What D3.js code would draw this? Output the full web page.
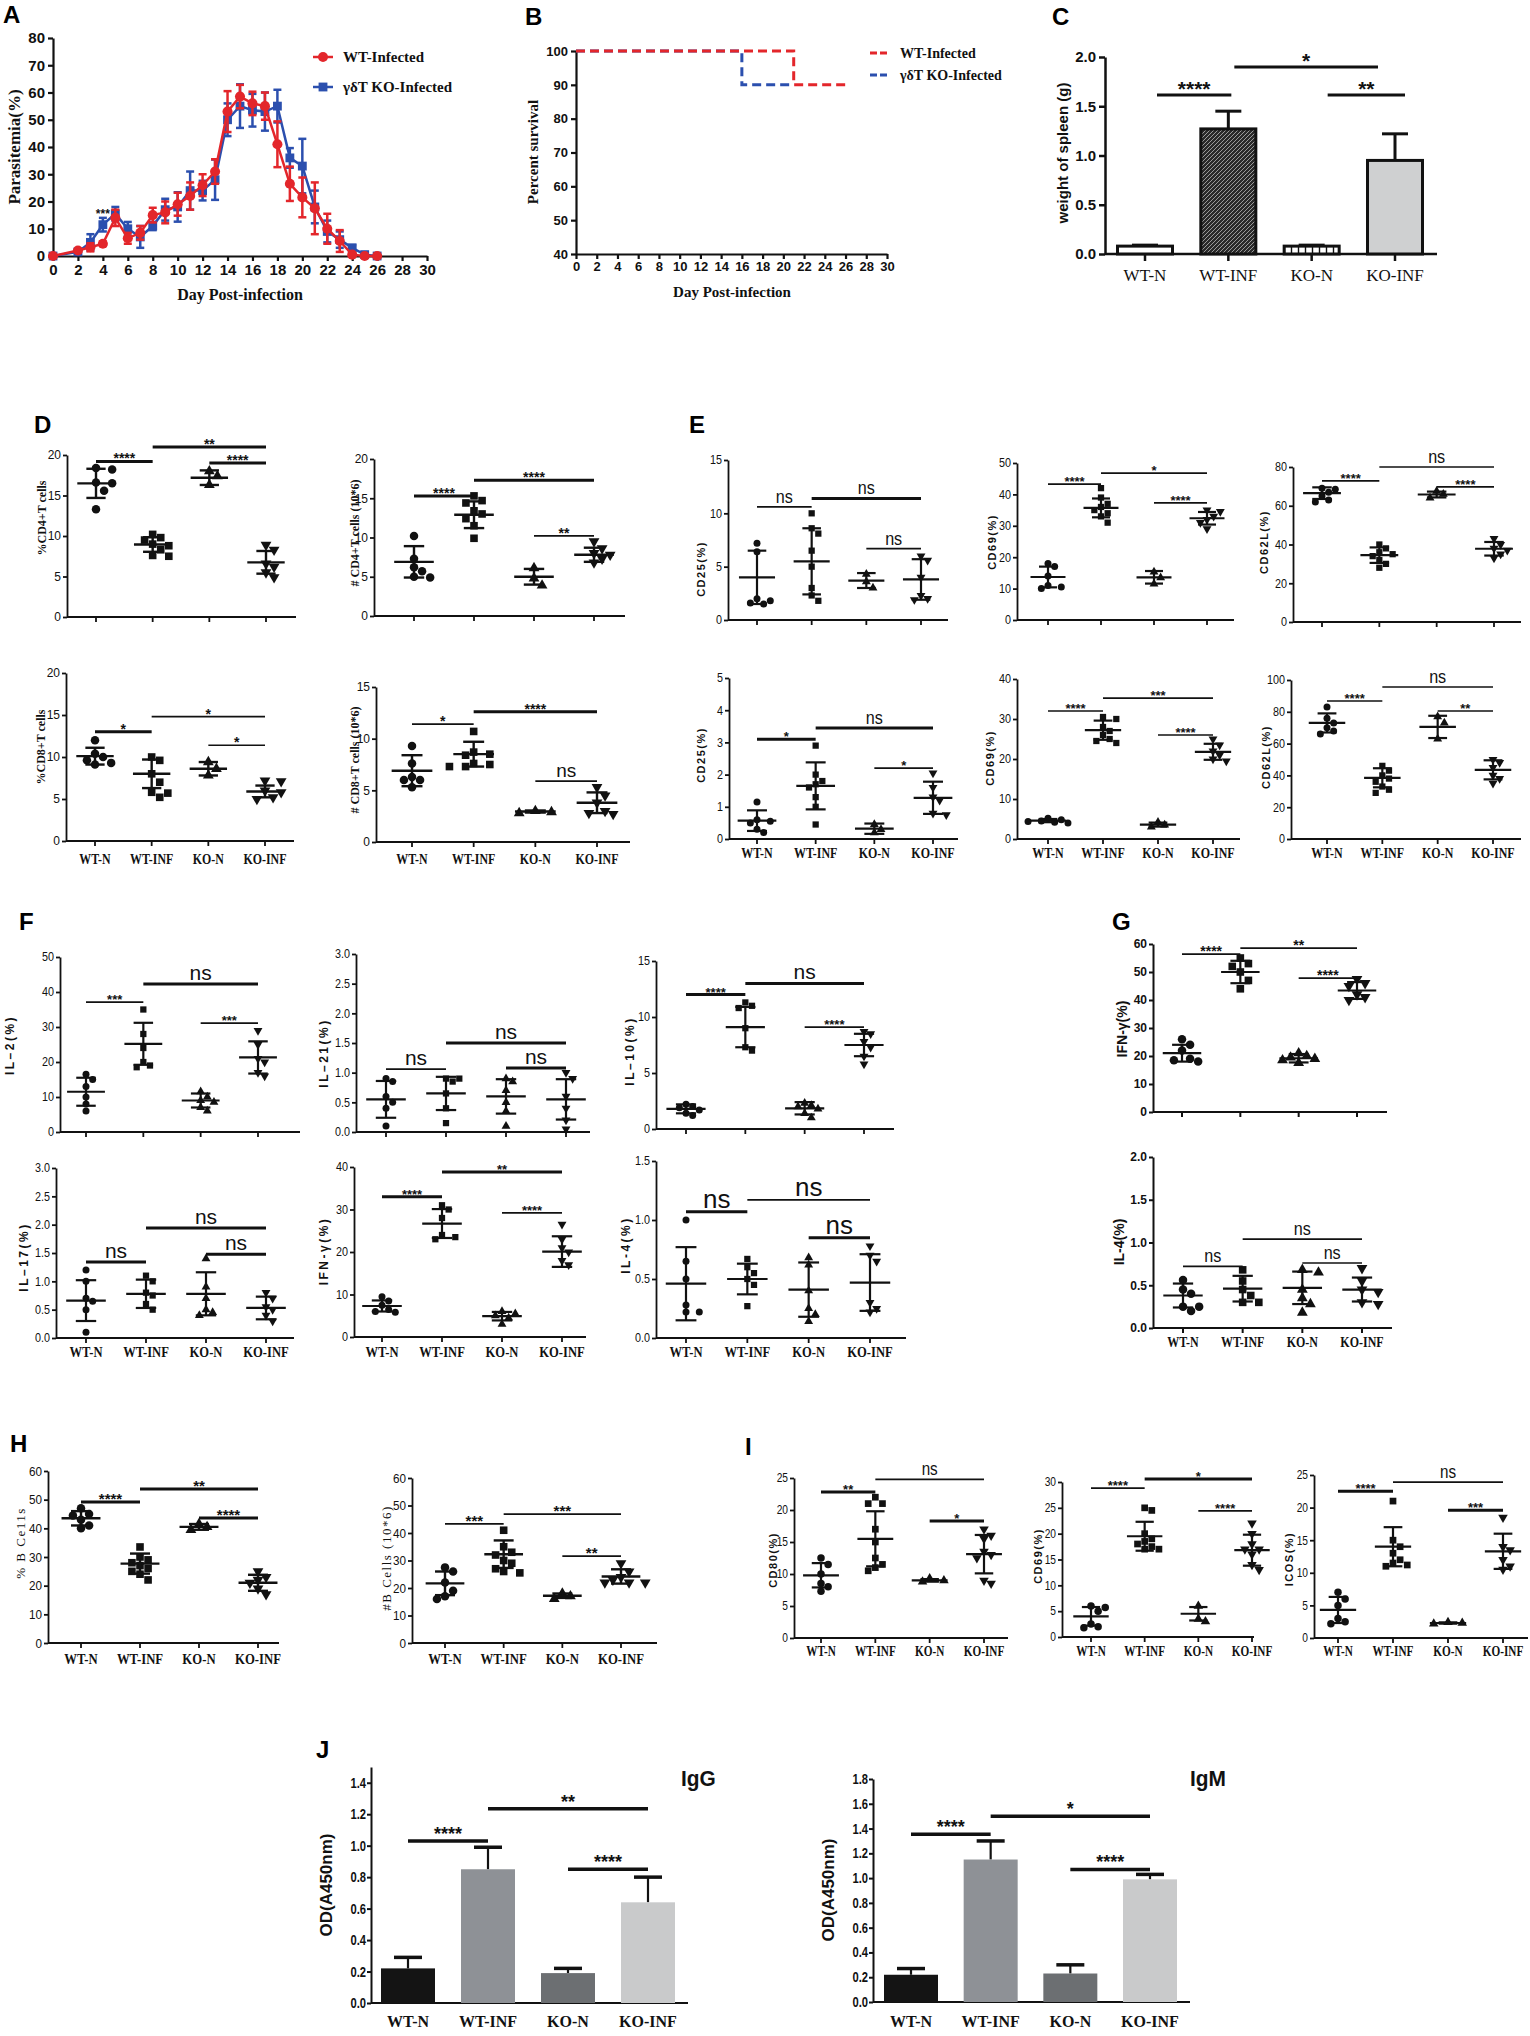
<!DOCTYPE html>
<html>
<head>
<meta charset="utf-8">
<script src="https://cdn.jsdelivr.net/npm/d3@7"></script>
<style>
  body { margin: 0; background: #fff; }
  svg { display: block; }
</style>
</head>
<body>
<svg id="fig" width="1530" height="2036"></svg>
<script>
const SANS = "'Liberation Sans', Arial, Helvetica, sans-serif";
const SERIF = "'Liberation Serif', 'Times New Roman', serif";

const groups = ["WT-N", "WT-INF", "KO-N", "KO-INF"];

// A: parasitemia
const daysA = [0, 2, 3, 4, 5, 6, 7, 8, 9, 10, 11, 12, 13, 14, 15, 16, 17, 18, 19, 20, 21, 22, 23, 24, 25, 26];
const wtPara = [0, 2, 3.2, 4.5, 14, 6.5, 8.5, 15, 16, 19, 22, 26, 31, 53, 58.5, 56, 55, 41, 26.5, 21.5, 17.5, 10, 5.5, 0.5, 0, 0];
const wtParaErr = [0, 0.5, 1.5, 0.8, 3, 2, 2.5, 2.7, 4, 4.2, 5, 4, 4.5, 7.5, 4.3, 4.3, 5, 8.4, 6.3, 7.3, 9.5, 5.5, 4, 0.5, 0.3, 0.3];
const koPara = [0, 1.5, 5, 11.5, 15.5, 10, 7, 11, 17, 18, 24, 24, 28, 50, 55, 53.5, 53, 55, 36, 33, 18, 9, 6, 3, 0.5, 0];
const koParaErr = [0, 0.5, 3, 2.5, 2.5, 2.5, 4, 1.5, 4, 5.4, 7, 3.6, 7.4, 6, 8, 6, 7, 6, 3.6, 10, 6, 4, 3, 1, 0.8, 0.5];

// B: survival (step points)
const wtSurvDays = [0, 21, 26];
const wtSurv = [100, 90, 90];
const koSurvDays = [0, 16, 21];
const koSurv = [100, 90, 90];

// C: spleen weight
const spleenMean = [0.08, 1.27, 0.08, 0.95];
const spleenSd = [0.01, 0.18, 0.01, 0.27];

// D
const cd4PctPts = [[18.4, 18.2, 16.6, 16.5, 15.6, 13.3], [10.2, 9.8, 9.5, 9.0, 8.8, 8.3, 7.6, 7.5], [18.0, 17.4, 16.3], [8.9, 8.3, 6.6, 6.2, 5.5, 4.9]];
const cd4PctMean = [16.5, 8.95, 17.2, 6.75];
const cd4PctSd = [1.8, 0.9, 0.9, 1.4];
const cd4NumPts = [[10.2, 7.3, 6.2, 5.7, 5.0, 4.9], [15.3, 14.7, 14.4, 13.4, 13.0, 12.4, 11.5, 9.9], [6.1, 4.8, 3.9], [9.5, 8.6, 8.0, 7.8, 7.3, 6.8]];
const cd4NumMean = [6.9, 12.9, 5.0, 7.8];
const cd4NumSd = [2.0, 1.7, 1.0, 0.9];
const cd8PctPts = [[12.0, 10.4, 10.0, 9.6, 9.3, 9.1], [10.0, 9.6, 8.0, 7.0, 5.8, 5.7, 5.2], [9.4, 8.6, 7.8], [7.2, 7.1, 6.0, 5.8, 5.2, 5.0]];
const cd8PctMean = [10.1, 8.0, 8.6, 5.9];
const cd8PctSd = [1.0, 1.7, 0.8, 0.7];
const cd8NumPts = [[9.3, 7.6, 6.3, 6.0, 6.0, 5.3], [10.7, 8.7, 8.5, 8.4, 7.6, 7.5, 7.3, 7.3], [3.0, 2.9, 2.8], [5.3, 4.5, 3.8, 3.0, 2.8, 2.7]];
const cd8NumMean = [6.9, 8.5, 2.95, 3.8];
const cd8NumSd = [1.5, 1.2, 0.1, 1.0];

// E
const cd4Cd25Pts = [[7.2, 6.4, 2.0, 1.8, 1.6, 1.5], [10.0, 8.6, 8.1, 6.5, 5.0, 3.0, 2.3, 1.8], [4.3, 3.6, 3.0], [6.0, 5.6, 4.0, 2.3, 2.0, 1.9]];
const cd4Cd25Mean = [4.0, 5.5, 3.7, 3.8];
const cd4Cd25Sd = [2.5, 3.1, 0.7, 1.9];
const cd4Cd69Pts = [[18.0, 17.0, 14.0, 11.0, 10.5, 10.0], [42, 39, 37, 36, 35, 34, 33, 31], [15.3, 13.5, 11.5], [35, 34.5, 33, 32, 31, 29]];
const cd4Cd69Mean = [13.7, 35.7, 13.6, 32.4];
const cd4Cd69Sd = [3.3, 3.0, 2.0, 2.0];
const cd4Cd62lPts = [[69, 68.5, 67, 65, 63, 62], [40, 38, 36, 35, 34, 32, 30, 28], [67.5, 66, 64], [43, 40, 38, 37, 35, 33]];
const cd4Cd62lMean = [66.5, 34.5, 65.8, 37.8];
const cd4Cd62lSd = [3, 4, 1.5, 3.5];
const cd8Cd25Pts = [[1.15, 0.6, 0.55, 0.5, 0.3, 0.2], [2.9, 2.0, 1.8, 1.7, 1.6, 1.3, 1.0, 0.45], [0.45, 0.3, 0.2], [2.05, 1.6, 1.3, 1.2, 0.8, 0.75]];
const cd8Cd25Mean = [0.57, 1.65, 0.32, 1.28];
const cd8Cd25Sd = [0.32, 0.73, 0.16, 0.5];
const cd8Cd69Pts = [[5.2, 4.8, 4.5, 4.4, 4.2, 4.0], [30.5, 30, 28, 27, 26, 25, 24.5, 24], [4.2, 3.5, 3.0], [25, 23.5, 22, 21, 20, 19.5]];
const cd8Cd69Mean = [4.6, 27.2, 3.6, 21.8];
const cd8Cd69Sd = [0.4, 2.4, 0.5, 2.0];
const cd8Cd62lPts = [[83, 76, 73, 70, 68, 66], [46, 43, 40, 38, 36, 33, 31, 29], [77, 73, 63], [50, 48, 45, 40, 38, 35]];
const cd8Cd62lMean = [73, 38.5, 70.5, 43.5];
const cd8Cd62lSd = [6, 6, 7, 6];

// F
const il2Pts = [[16.5, 15, 13, 10, 8, 6], [35, 28, 24, 20, 19, 18.5], [11.5, 10, 9, 8.5, 7, 6], [29, 25, 21, 20, 17, 16]];
const il2Mean = [11.5, 25.2, 9, 21.3];
const il2Sd = [4, 6, 2, 4.6];
const il21Pts = [[0.9, 0.85, 0.6, 0.5, 0.4, 0.1], [0.9, 0.9, 0.85, 0.65, 0.4, 0.15], [0.9, 0.85, 0.7, 0.5, 0.35, 0.1], [1.0, 0.9, 0.6, 0.4, 0.2, 0.05]];
const il21Mean = [0.55, 0.65, 0.6, 0.55];
const il21Sd = [0.31, 0.28, 0.29, 0.34];
const il10Pts = [[2.2, 2.0, 1.9, 1.7, 1.4, 1.2], [11.3, 11.0, 10.8, 9.0, 7.3, 7.0], [2.3, 2.1, 2.0, 1.8, 1.4, 1.0], [8.7, 8.5, 7.8, 7.3, 6.5, 5.8]];
const il10Mean = [1.8, 9.1, 1.85, 7.5];
const il10Sd = [0.4, 1.8, 0.55, 1.0];
const il17Pts = [[1.2, 1.0, 0.7, 0.65, 0.5, 0.1], [1.1, 1.0, 0.8, 0.75, 0.6, 0.5], [1.4, 0.9, 0.7, 0.5, 0.45, 0.4], [0.8, 0.7, 0.55, 0.5, 0.4, 0.3]];
const il17Mean = [0.66, 0.78, 0.78, 0.53];
const il17Sd = [0.36, 0.25, 0.38, 0.2];
const ifngFPts = [[9.5, 8.5, 7.5, 6.5, 6.0, 5.8], [31, 30, 28, 24, 23.5, 23], [6.0, 5.5, 5.0, 4.5, 3.0], [26.5, 23, 21, 20, 18, 17]];
const ifngFMean = [7.3, 26.7, 4.9, 20.1];
const ifngFSd = [1.3, 3.4, 1.0, 3.6];
const il4FPts = [[1.0, 0.65, 0.5, 0.28, 0.22, 0.22], [0.67, 0.6, 0.55, 0.5, 0.45, 0.27], [0.68, 0.62, 0.4, 0.25, 0.2, 0.14], [0.78, 0.7, 0.65, 0.3, 0.25, 0.22]];
const il4FMean = [0.46, 0.5, 0.41, 0.47];
const il4FSd = [0.31, 0.13, 0.23, 0.24];

// G
const ifngGPts = [[26, 24, 22, 19, 18.5, 18], [55, 53, 52, 50, 47, 44], [21, 20, 19.5, 19, 18.5, 17.5], [47.5, 46, 45, 42, 41, 40]];
const ifngGMean = [21, 50, 19.2, 43.4];
const ifngGSd = [3, 4, 1.5, 3];
const il4GPts = [[0.56, 0.45, 0.4, 0.25, 0.25, 0.2], [0.68, 0.55, 0.45, 0.38, 0.3, 0.3], [0.68, 0.65, 0.45, 0.35, 0.28, 0.18], [0.7, 0.55, 0.45, 0.42, 0.3, 0.28]];
const il4GMean = [0.38, 0.46, 0.47, 0.45];
const il4GSd = [0.14, 0.15, 0.19, 0.14];

// H
const bPctPts = [[47, 45, 44.5, 43, 41, 40], [33.5, 30, 29, 28, 27, 26, 25, 24, 22], [41.5, 40.5, 39.5], [25, 23, 22, 21, 19, 17]];
const bPctMean = [43.5, 27.7, 40.5, 21];
const bPctSd = [2.5, 3.5, 1, 2.8];
const bNumPts = [[27.5, 26, 22, 19, 17, 16], [41, 35, 33, 32, 30, 29, 27, 26, 25.5], [18, 17, 16], [29, 26, 24, 23, 22, 22, 22]];
const bNumMean = [21.7, 32.3, 17.2, 24.2];
const bNumSd = [4.3, 5, 0.8, 2.6];

// I
const cd80Pts = [[12.5, 11.5, 10, 8.5, 8, 7.3], [22, 21, 21, 17, 15, 12.5, 11.5, 11, 10.5], [9.3, 9.0, 8.8], [17, 16, 15.5, 13.5, 13, 12.5, 9, 8.5]];
const cd80Mean = [9.8, 15.5, 9.0, 13.1];
const cd80Sd = [1.9, 4.3, 0.2, 3];
const bCd69Pts = [[6, 5.7, 5, 2.5, 2, 1.8], [25, 24.5, 20, 19, 18.5, 18, 17.5, 17, 17], [6, 3.5, 3], [22, 20, 18, 17, 17, 16, 14, 13]];
const bCd69Mean = [4, 19.5, 4.5, 16.8];
const bCd69Sd = [1.8, 2.8, 1.3, 3];
const icosPts = [[7, 6, 5, 3, 2.5, 2.2], [21, 15, 14, 13, 12, 11.5, 11.2, 11], [2.4, 2.3, 2.2], [18.5, 14, 13.5, 12, 11, 10.5]];
const icosMean = [4.3, 14, 2.3, 13.3];
const icosSd = [2, 3, 0.1, 2.7];

// J
const iggMean = [0.22, 0.85, 0.19, 0.64];
const iggSd = [0.07, 0.14, 0.03, 0.16];
const igmMean = [0.22, 1.15, 0.23, 0.99];
const igmSd = [0.05, 0.15, 0.07, 0.04];

const svg = d3.select("#fig");
const defs = svg.append("defs");

function txt(p, x, y, s, o = {}) {
    let tr = `translate(${x},${y})`;
    if (o.rot) tr += " rotate(-90)";
    if (o.sx && o.sx !== 1) tr += o.rot ? ` scale(1,${o.sx})` : ` scale(${o.sx},1)`;
    return p.append("text")
        .attr("transform", tr)
        .attr("text-anchor", o.anchor || "middle")
        .attr("fill", o.fill || "#111")
        .style("font-family", o.serif ? SERIF : SANS)
        .style("font-size", (o.size || 12) + "px")
        .style("font-weight", o.bold ? "bold" : "normal")
        .style("letter-spacing", o.ls ? o.ls + "px" : null)
        .text(s);
}

function seg(p, x1, y1, x2, y2, w, col) {
    return p.append("line")
        .attr("x1", x1).attr("y1", y1).attr("x2", x2).attr("y2", y2)
        .attr("stroke", col || "#111")
        .attr("stroke-width", w || 1.5);
}

function styleAxis(a, w, size, bold) {
    a.selectAll("path,line").attr("stroke", "#111").attr("stroke-width", w);
    a.selectAll("text")
        .attr("fill", "#111")
        .style("font-family", SANS)
        .style("font-size", size + "px")
        .style("font-weight", bold ? "bold" : "normal");
}

// panel letters
[["A", 3, 23], ["B", 525, 25], ["C", 1052, 25], ["D", 34, 433], ["E", 689, 433],
 ["F", 19, 930], ["G", 1112, 930], ["H", 10, 1452], ["I", 745, 1455], ["J", 316, 1758]]
    .forEach(([l, x, y]) => txt(svg, x, y, l, { anchor: "start", bold: true, size: 24, fill: "#000" }));

// ---------- A ----------
(function () {
    const g = svg.append("g");
    const x = d3.scaleLinear().domain([0, 30]).range([53, 427]);
    const y = d3.scaleLinear().domain([0, 80]).range([256, 38]);
    const xa = g.append("g").attr("transform", "translate(0,256)")
        .call(d3.axisBottom(x).tickValues(d3.range(0, 31, 2)).tickSize(5).tickSizeOuter(0));
    const ya = g.append("g").attr("transform", "translate(53,0)")
        .call(d3.axisLeft(y).tickValues(d3.range(0, 81, 10)).tickSize(5).tickSizeOuter(0));
    styleAxis(xa, 2.2, 15, true);
    styleAxis(ya, 2.2, 15, true);
    txt(g, 240, 300, "Day Post-infection", { serif: true, bold: true, size: 16 });
    txt(g, 20, 147, "Parasitemia(%)", { serif: true, bold: true, size: 17, rot: true });

    const series = [
        { v: koPara, e: koParaErr, col: "#2b4fae", sym: d3.symbolSquare, size: 78 },
        { v: wtPara, e: wtParaErr, col: "#e3262b", sym: d3.symbolCircle, size: 80 }
    ];
    series.forEach(s => {
        const pts = daysA.map((d, i) => [x(d), y(s.v[i]), y(s.v[i] + s.e[i]), y(Math.max(0, s.v[i] - s.e[i]))]);
        pts.forEach(p => {
            seg(g, p[0], p[2], p[0], p[3], 2.5, s.col);
            seg(g, p[0] - 4, p[2], p[0] + 4, p[2], 2.5, s.col);
            seg(g, p[0] - 4, p[3], p[0] + 4, p[3], 2.5, s.col);
        });
        g.append("path").datum(pts)
            .attr("d", d3.line().x(p => p[0]).y(p => p[1]))
            .attr("fill", "none").attr("stroke", s.col).attr("stroke-width", 2.5);
        pts.forEach(p => g.append("path")
            .attr("d", d3.symbol(s.sym, s.size)())
            .attr("transform", `translate(${p[0]},${p[1]})`)
            .attr("fill", s.col));
    });
    txt(g, x(4), y(14), "***", { bold: true, size: 12 });

    [["WT-Infected", "#e3262b", d3.symbolCircle, 57], ["γδT KO-Infected", "#2b4fae", d3.symbolSquare, 87]]
        .forEach(([lab, col, sym, ly]) => {
            seg(g, 313, ly, 333, ly, 2.5, col);
            g.append("path").attr("d", d3.symbol(sym, 78)()).attr("transform", `translate(323,${ly})`).attr("fill", col);
            txt(g, 343, ly + 5, lab, { anchor: "start", serif: true, bold: true, size: 15 });
        });
})();

// ---------- B ----------
(function () {
    const g = svg.append("g");
    const x = d3.scaleLinear().domain([0, 30]).range([576, 887]);
    const y = d3.scaleLinear().domain([40, 100]).range([254, 51]);
    const xa = g.append("g").attr("transform", "translate(0,254)")
        .call(d3.axisBottom(x).tickValues(d3.range(0, 31, 2)).tickSize(5).tickSizeOuter(0));
    const ya = g.append("g").attr("transform", "translate(576,0)")
        .call(d3.axisLeft(y).tickValues(d3.range(40, 101, 10)).tickSize(5).tickSizeOuter(0));
    styleAxis(xa, 2.2, 13, true);
    styleAxis(ya, 2.2, 13, true);
    txt(g, 732, 297, "Day Post-infection", { serif: true, bold: true, size: 15 });
    txt(g, 538, 152, "Percent survival", { serif: true, bold: true, size: 15, rot: true });

    const step = d3.line().curve(d3.curveStepAfter).x(d => x(d[0])).y(d => y(d[1]));
    [[koSurvDays, koSurv, "#2b4fae"], [wtSurvDays, wtSurv, "#e3262b"]].forEach(([ds, vs, col]) => {
        g.append("path").datum(ds.map((d, i) => [d, vs[i]]))
            .attr("d", step).attr("fill", "none").attr("stroke", col)
            .attr("stroke-width", 3).attr("stroke-dasharray", "9,5");
    });
    [["WT-Infected", "#e3262b", 53], ["γδT KO-Infected", "#2b4fae", 75]].forEach(([lab, col, ly]) => {
        seg(g, 870, ly, 890, ly, 3, col).attr("stroke-dasharray", "7,3");
        txt(g, 900, ly + 5, lab, { anchor: "start", serif: true, bold: true, size: 14 });
    });
})();

// ---------- C ----------
(function () {
    const hatch = defs.append("pattern").attr("id", "hatch")
        .attr("patternUnits", "userSpaceOnUse").attr("width", 4).attr("height", 4);
    hatch.append("rect").attr("width", 4).attr("height", 4).attr("fill", "#2a2a2a");
    hatch.append("path").attr("d", "M0,4 L4,0 M-1,1 L1,-1 M3,5 L5,3")
        .attr("stroke", "#9a9a9a").attr("stroke-width", 1);
    const vst = defs.append("pattern").attr("id", "vstripe")
        .attr("patternUnits", "userSpaceOnUse").attr("width", 7).attr("height", 7);
    vst.append("rect").attr("width", 7).attr("height", 7).attr("fill", "#fff");
    vst.append("line").attr("x1", 3.5).attr("x2", 3.5).attr("y1", 0).attr("y2", 7)
        .attr("stroke", "#111").attr("stroke-width", 1.4);
    const fills = ["#fff", "url(#hatch)", "url(#vstripe)", "#cfd0d1"];

    const g = svg.append("g");
    const x = d3.scalePoint().domain(groups).range([1145, 1395]);
    const y = d3.scaleLinear().domain([0, 2]).range([254, 57]);
    const bw = 55;
    const ya = g.append("g").attr("transform", "translate(1105,0)")
        .call(d3.axisLeft(y).tickValues([0, 0.5, 1, 1.5, 2]).tickFormat(d3.format(".1f")).tickSize(6).tickSizeOuter(0));
    styleAxis(ya, 2.5, 15, true);
    seg(g, 1105, 254, 1437, 254, 2.5);
    groups.forEach(gr => seg(g, x(gr), 254, x(gr), 261, 2.5));
    groups.forEach((gr, i) => {
        const cx = x(gr), top = y(spleenMean[i] + spleenSd[i]);
        seg(g, cx, y(spleenMean[i]), cx, top, 3);
        seg(g, cx - 13, top, cx + 13, top, 3);
        g.append("rect")
            .attr("x", cx - bw / 2).attr("y", y(spleenMean[i]))
            .attr("width", bw).attr("height", 254 - y(spleenMean[i]))
            .attr("fill", fills[i]).attr("stroke", "#111").attr("stroke-width", 3);
        txt(g, cx, 281, gr, { serif: true, size: 17 });
    });
    txt(g, 1068, 153, "weight of spleen  (g)", { bold: true, size: 15, rot: true });
    [[0, 1, 95, "****", 12, 3], [1, 3, 67, "*", 6, -17], [2, 3, 95, "**", 16, 10]].forEach(([a, b, yy, lab, d1, d2]) => {
        const x1 = x(groups[a]) + d1, x2 = x(groups[b]) + d2;
        seg(g, x1, yy, x2, yy, 3);
        txt(g, (x1 + x2) / 2, yy + 1, lab, { bold: true, size: 21 });
    });
})();

// ---------- dot plots ----------
function marker(i, d) {
    if (i === 0) return d3.symbol(d3.symbolCircle, Math.PI * d * d / 4)();
    if (i === 1) return d3.symbol(d3.symbolSquare, d * d * 0.8)();
    return d3.symbol(d3.symbolTriangle, d * d * 0.7)();
}

function dotPlot(c, st) {
    const g = svg.append("g");
    const y = d3.scaleLinear().domain([0, c.max]).range([c.base, c.top]);
    const x = d3.scalePoint().domain(groups).range([c.c0, c.c3]);
    const sp = x.step();
    const ticks = d3.range(0, c.max + c.step / 2, c.step);
    const fmt = c.step < 1 ? d3.format(".1f") : d3.format("d");

    const ya = g.append("g").attr("transform", `translate(${c.ax},0)`)
        .call(d3.axisLeft(y).tickValues(ticks).tickSize(4).tickSizeOuter(0));
    ya.selectAll("path,line").attr("stroke", "#111").attr("stroke-width", st.aw);
    ya.selectAll("text").remove();
    ticks.forEach(t => txt(g, c.ax - 6, y(t) + st.tick * 0.36, fmt(t),
        { anchor: "end", size: st.tick, sx: st.tsx, bold: st.tickBold }));

    seg(g, c.ax, c.base, c.xEnd, c.base, st.aw);
    groups.forEach(gr => seg(g, x(gr), c.base, x(gr), c.base + 5, st.aw));
    if (c.xl) groups.forEach(gr => txt(g, x(gr), c.xl, gr, { serif: true, bold: true, size: st.xl, sx: st.xsx }));
    txt(g, c.lx + st.yl * 0.36, c.ly, c.label,
        { rot: true, size: st.yl, bold: st.ylBold, serif: st.ylSerif, ls: st.ls });

    const d = st.d;
    const mw = sp * 0.33, cw = sp * 0.17;
    c.pts.forEach((vals, i) => {
        const cx = x(groups[i]);
        const placed = [];
        vals.slice().sort((a, b) => b - a).forEach(v => {
            const py = y(v);
            let off = 0;
            for (let n = 0; n < 30; n++) {
                off = n === 0 ? 0 : (n % 2 ? 1 : -1) * Math.ceil(n / 2) * d * 0.95;
                if (placed.every(p => Math.hypot(p[0] - off, p[1] - py) >= d)) break;
            }
            placed.push([off, py]);
        });
        placed.forEach(p => g.append("path")
            .attr("d", marker(i, d))
            .attr("transform", `translate(${cx + p[0]},${p[1]})${i === 3 ? " rotate(180)" : ""}`)
            .attr("fill", "#111"));
        const m = c.mean[i], s = c.sd[i];
        seg(g, cx - mw, y(m), cx + mw, y(m), st.lw);
        seg(g, cx, y(m - s), cx, y(m + s), st.lw);
        seg(g, cx - cw, y(m - s), cx + cw, y(m - s), st.lw);
        seg(g, cx - cw, y(m + s), cx + cw, y(m + s), st.lw);
    });

    c.sig.forEach(([a, b, v, lab, thick, fs]) => {
        const yy = y(v), x1 = x(groups[a]), x2 = x(groups[b]);
        seg(g, x1, yy, x2, yy, thick ? 3 : 1.7);
        if (lab === "ns") txt(g, (x1 + x2) / 2, yy - 4, lab, { size: fs || st.ns, sx: st.nsx });
        else txt(g, (x1 + x2) / 2, yy + 2, lab, { bold: true, size: st.star });
    });
}

const stD = { aw: 1.8, tick: 12, tsx: 1, xl: 14, xsx: 0.85, yl: 12, ylSerif: true, ylBold: true, star: 14, ns: 19, nsx: 1, lw: 2.4, d: 8.5 };
const stE = { aw: 1.8, tick: 12, tsx: 0.9, xl: 15, xsx: 0.8, yl: 11, ls: 1.5, ylBold: true, star: 13, ns: 19, nsx: 0.85, lw: 2.2, d: 7 };
const stF = { aw: 1.8, tick: 12, tsx: 0.9, xl: 14, xsx: 0.9, yl: 12, ls: 2.5, ylBold: true, star: 13, ns: 21, nsx: 1, lw: 2.2, d: 7 };
const stG = { aw: 2, tick: 12, tickBold: true, tsx: 1, xl: 15, xsx: 0.8, yl: 14, ylBold: true, star: 14, ns: 19, nsx: 0.85, lw: 2.2, d: 8.5 };
const stH = { aw: 1.8, tick: 13, tsx: 0.9, xl: 15, xsx: 0.85, yl: 13, ylSerif: true, ls: 1.5, star: 15, ns: 19, nsx: 0.85, lw: 2.4, d: 8.5 };
const stI = { aw: 1.8, tick: 12, tsx: 0.85, xl: 15, xsx: 0.75, yl: 11, ls: 1.5, ylBold: true, star: 13, ns: 19, nsx: 0.8, lw: 2.2, d: 7.5 };

// D
dotPlot({ pts: cd4PctPts, mean: cd4PctMean, sd: cd4PctSd, ax: 67, top: 455, base: 617, xEnd: 296, c0: 96, c3: 266, max: 20, step: 5,
    label: "%CD4+T cells", lx: 42, ly: 518, sig: [[0, 1, 19.2, "****", 1], [1, 3, 21.0, "**", 1], [2, 3, 19.0, "****", 1]] }, stD);
dotPlot({ pts: cd4NumPts, mean: cd4NumMean, sd: cd4NumSd, ax: 374, top: 459, base: 616, xEnd: 625, c0: 414, c3: 594, max: 20, step: 5,
    label: "# CD4+T cells (10*6)", lx: 355, ly: 533, sig: [[0, 1, 15.3, "****", 1], [1, 3, 17.3, "****", 1], [2, 3, 10.2, "**"]] }, stD);
dotPlot({ pts: cd8PctPts, mean: cd8PctMean, sd: cd8PctSd, ax: 66, top: 673, base: 841, xEnd: 294, c0: 95, c3: 265, max: 20, step: 5,
    label: "%CD8+T cells", lx: 41, ly: 747, xl: 864, sig: [[0, 1, 13.0, "*", 1], [1, 3, 14.8, "*"], [2, 3, 11.4, "*"]] }, stD);
dotPlot({ pts: cd8NumPts, mean: cd8NumMean, sd: cd8NumSd, ax: 376, top: 687, base: 842, xEnd: 630, c0: 412, c3: 597, max: 15, step: 5,
    label: "# CD8+T cells (10*6)", lx: 355, ly: 760, xl: 864, sig: [[0, 1, 11.4, "*"], [1, 3, 12.6, "****", 1], [2, 3, 5.9, "ns"]] }, stD);

// E
dotPlot({ pts: cd4Cd25Pts, mean: cd4Cd25Mean, sd: cd4Cd25Sd, ax: 728, top: 460, base: 620, xEnd: 948, c0: 757, c3: 921, max: 15, step: 5,
    label: "CD25(%)", lx: 701, ly: 569, sig: [[0, 1, 10.6, "ns"], [1, 3, 11.4, "ns", 1], [2, 3, 6.7, "ns"]] }, stE);
dotPlot({ pts: cd4Cd69Pts, mean: cd4Cd69Mean, sd: cd4Cd69Sd, ax: 1017, top: 463, base: 620, xEnd: 1234, c0: 1048, c3: 1207, max: 50, step: 10,
    label: "CD69(%)", lx: 992, ly: 542, sig: [[0, 1, 43.3, "****"], [1, 3, 46.8, "*"], [2, 3, 37.3, "****"]] }, stE);
dotPlot({ pts: cd4Cd62lPts, mean: cd4Cd62lMean, sd: cd4Cd62lSd, ax: 1293, top: 467, base: 622, xEnd: 1521, c0: 1322, c3: 1494, max: 80, step: 20,
    label: "CD62L(%)", lx: 1264, ly: 542, sig: [[0, 1, 72.8, "****"], [1, 3, 80, "ns"], [2, 3, 69.7, "****"]] }, stE);
dotPlot({ pts: cd8Cd25Pts, mean: cd8Cd25Mean, sd: cd8Cd25Sd, ax: 729, top: 678, base: 839, xEnd: 958, c0: 757, c3: 933, max: 5, step: 1,
    label: "CD25(%)", lx: 701, ly: 755, xl: 858, sig: [[0, 1, 3.1, "*", 1], [1, 3, 3.45, "ns", 1], [2, 3, 2.2, "*"]] }, stE);
dotPlot({ pts: cd8Cd69Pts, mean: cd8Cd69Mean, sd: cd8Cd69Sd, ax: 1017, top: 679, base: 839, xEnd: 1240, c0: 1048, c3: 1213, max: 40, step: 10,
    label: "CD69(%)", lx: 990, ly: 758, xl: 858, sig: [[0, 1, 32, "****"], [1, 3, 35.2, "***"], [2, 3, 26, "****"]] }, stE);
dotPlot({ pts: cd8Cd62lPts, mean: cd8Cd62lMean, sd: cd8Cd62lSd, ax: 1291, top: 680, base: 839, xEnd: 1521, c0: 1327, c3: 1493, max: 100, step: 20,
    label: "CD62L(%)", lx: 1266, ly: 757, xl: 858, sig: [[0, 1, 86.8, "****"], [1, 3, 95.6, "ns"], [2, 3, 80.5, "**"]] }, stE);

// F
dotPlot({ pts: il2Pts, mean: il2Mean, sd: il2Sd, ax: 60, top: 957, base: 1132, xEnd: 300, c0: 86, c3: 258, max: 50, step: 10,
    label: "IL–2(%)", lx: 10, ly: 1045, sig: [[0, 1, 37.1, "***"], [1, 3, 42.3, "ns", 1], [2, 3, 31.1, "***"]] }, stF);
dotPlot({ pts: il21Pts, mean: il21Mean, sd: il21Sd, ax: 356, top: 954, base: 1132, xEnd: 590, c0: 386, c3: 566, max: 3, step: 0.5,
    label: "IL–21(%)", lx: 324, ly: 1053, sig: [[0, 1, 1.06, "ns"], [1, 3, 1.5, "ns", 1], [2, 3, 1.08, "ns", 1]] }, stF);
dotPlot({ pts: il10Pts, mean: il10Mean, sd: il10Sd, ax: 656, top: 961, base: 1129, xEnd: 894, c0: 686, c3: 864, max: 15, step: 5,
    label: "IL–10(%)", lx: 630, ly: 1051, sig: [[0, 1, 12.0, "****", 1], [1, 3, 13.0, "ns", 1], [2, 3, 9.1, "****"]] }, stF);
dotPlot({ pts: il17Pts, mean: il17Mean, sd: il17Sd, ax: 56, top: 1168, base: 1338, xEnd: 294, c0: 86, c3: 266, max: 3, step: 0.5,
    label: "IL–17(%)", lx: 24, ly: 1257, xl: 1357, sig: [[0, 1, 1.34, "ns", 1], [1, 3, 1.94, "ns", 1], [2, 3, 1.48, "ns", 1]] }, stF);
dotPlot({ pts: ifngFPts, mean: ifngFMean, sd: ifngFSd, ax: 354, top: 1167, base: 1337, xEnd: 586, c0: 382, c3: 562, max: 40, step: 10,
    label: "IFN-γ(%)", lx: 324, ly: 1251, xl: 1357, sig: [[0, 1, 33, "****", 1], [1, 3, 38.8, "**", 1], [2, 3, 29.2, "****"]] }, stF);
dotPlot({ pts: il4FPts, mean: il4FMean, sd: il4FSd, ax: 656, top: 1161, base: 1338, xEnd: 906, c0: 686, c3: 870, max: 1.5, step: 0.5,
    label: "IL-4(%)", lx: 626, ly: 1245, xl: 1357, sig: [[0, 1, 1.07, "ns", 1, 26], [1, 3, 1.17, "ns", 0, 26], [2, 3, 0.85, "ns", 1, 26]] }, stF);

// G
dotPlot({ pts: ifngGPts, mean: ifngGMean, sd: ifngGSd, ax: 1153, top: 944, base: 1112, xEnd: 1387, c0: 1182, c3: 1357, max: 60, step: 10,
    label: "IFN-γ(%)", lx: 1122, ly: 1029, sig: [[0, 1, 56.4, "****"], [1, 3, 58.5, "**"], [2, 3, 47.8, "****"]] }, stG);
dotPlot({ pts: il4GPts, mean: il4GMean, sd: il4GSd, ax: 1153, top: 1157, base: 1328, xEnd: 1392, c0: 1183, c3: 1362, max: 2, step: 0.5,
    label: "IL-4(%)", lx: 1119, ly: 1242, xl: 1347, sig: [[0, 1, 0.72, "ns"], [1, 3, 1.04, "ns"], [2, 3, 0.76, "ns"]] }, stG);

// H
dotPlot({ pts: bPctPts, mean: bPctMean, sd: bPctSd, ax: 48, top: 1471, base: 1643, xEnd: 279, c0: 81, c3: 258, max: 60, step: 10,
    label: "% B Ce11s", lx: 20, ly: 1543, xl: 1664, sig: [[0, 1, 49.2, "****", 1], [1, 3, 53.7, "**", 1], [2, 3, 43.6, "****", 1]] }, stH);
dotPlot({ pts: bNumPts, mean: bNumMean, sd: bNumSd, ax: 412, top: 1478, base: 1643, xEnd: 657, c0: 445, c3: 621, max: 60, step: 10,
    label: "#B Cells (10*6)", lx: 386, ly: 1558, xl: 1664, sig: [[0, 1, 43.3, "***"], [1, 3, 46.9, "***"], [2, 3, 31.6, "**"]] }, stH);

// I
dotPlot({ pts: cd80Pts, mean: cd80Mean, sd: cd80Sd, ax: 794, top: 1478, base: 1638, xEnd: 1008, c0: 821, c3: 984, max: 25, step: 5,
    label: "CD80(%)", lx: 773, ly: 1560, xl: 1656, sig: [[0, 1, 22.8, "**", 1], [1, 3, 24.8, "ns"], [2, 3, 18.3, "*", 1]] }, stI);
dotPlot({ pts: bCd69Pts, mean: bCd69Mean, sd: bCd69Sd, ax: 1062, top: 1482, base: 1637, xEnd: 1254, c0: 1091, c3: 1252, max: 30, step: 5,
    label: "CD69(%)", lx: 1038, ly: 1556, xl: 1656, sig: [[0, 1, 28.8, "****"], [1, 3, 30.6, "*", 1], [2, 3, 24.4, "****"]] }, stI);
dotPlot({ pts: icosPts, mean: icosMean, sd: icosSd, ax: 1314, top: 1475, base: 1638, xEnd: 1528, c0: 1338, c3: 1503, max: 25, step: 5,
    label: "ICOS(%)", lx: 1289, ly: 1559, xl: 1656, sig: [[0, 1, 22.5, "****", 1], [1, 3, 23.9, "ns"], [2, 3, 19.6, "***", 1]] }, stI);

// ---------- J ----------
function odBars(c) {
    const g = svg.append("g");
    const y = d3.scaleLinear().domain([0, c.max]).range([c.base, c.top]);
    const x = d3.scalePoint().domain(groups).range([c.c0, c.c3]);
    const cols = ["#141414", "#8e9196", "#6c6f72", "#c9cacb"];
    const ticks = d3.range(0, c.tmax + 0.1, 0.2);
    const ya = g.append("g").attr("transform", `translate(${c.ax},0)`)
        .call(d3.axisLeft(y).tickValues(ticks).tickSize(4).tickSizeOuter(0));
    ya.selectAll("path,line").attr("stroke", "#111").attr("stroke-width", 2);
    ya.selectAll("text").remove();
    ticks.forEach(t => txt(g, c.ax - 5, y(t) + 5, d3.format(".1f")(t), { anchor: "end", bold: true, size: 14, sx: 0.8 }));
    seg(g, c.ax, c.base, c.xEnd, c.base, 2);
    groups.forEach((gr, i) => {
        const cx = x(gr), top = y(c.mean[i] + c.sd[i]);
        seg(g, cx, y(c.mean[i]), cx, top, 2.2);
        seg(g, cx - 14, top, cx + 14, top, 3.5);
        g.append("rect")
            .attr("x", cx - 27).attr("y", y(c.mean[i]))
            .attr("width", 54).attr("height", c.base - y(c.mean[i]))
            .attr("fill", cols[i]);
        txt(g, cx, 2027, gr, { serif: true, bold: true, size: 16 });
    });
    txt(g, c.lx, c.ly, "OD(A450nm)", { rot: true, bold: true, size: 17 });
    txt(g, c.tx, 1786, c.title, { anchor: "start", bold: true, size: 22, sx: 0.95 });
    c.sig.forEach(([a, b, v, lab]) => {
        const yy = y(v), x1 = x(groups[a]), x2 = x(groups[b]);
        seg(g, x1, yy, x2, yy, 3.5);
        txt(g, (x1 + x2) / 2, yy - 1, lab, { bold: true, size: 18 });
    });
}
odBars({ mean: iggMean, sd: iggSd, ax: 371, base: 2003, top: 1767, max: 1.5, tmax: 1.4, c0: 408, c3: 648, xEnd: 688,
    lx: 332, ly: 1885, tx: 681, title: "IgG", sig: [[0, 1, 1.03, "****"], [1, 3, 1.235, "**"], [2, 3, 0.85, "****"]] });
odBars({ mean: igmMean, sd: igmSd, ax: 873, base: 2002, top: 1779, max: 1.8, tmax: 1.8, c0: 911, c3: 1150, xEnd: 1190,
    lx: 834, ly: 1890, tx: 1190, title: "IgM", sig: [[0, 1, 1.355, "****"], [1, 3, 1.50, "*"], [2, 3, 1.07, "****"]] });
</script>
</body>
</html>
